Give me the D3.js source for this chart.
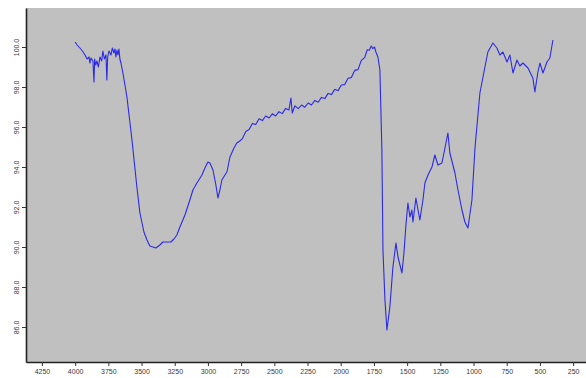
<!DOCTYPE html>
<html>
<head>
<meta charset="utf-8">
<script src="https://cdn.jsdelivr.net/npm/d3@7"></script>
<style>
  html, body { margin: 0; padding: 0; background: #ffffff; }
  svg { display: block; }
  .tick text { font-family: "Liberation Sans", Arial, sans-serif; font-size: 7px; fill: #3a3a3a; }
</style>
</head>
<body>
<svg id="chart" width="586" height="378"></svg>
<script>
// Wavenumber (cm-1) values of the spectrum trace
const wavenumbers = [
  4000, 3985, 3964, 3945, 3926, 3910, 3895, 3889, 3880, 3866, 3858, 3853, 3845, 3836, 3825, 3813, 3800, 3791,
  3780, 3768, 3761, 3755, 3745, 3730, 3720, 3708, 3700, 3693, 3685, 3678, 3670, 3663, 3655,
  3640, 3610, 3572, 3535, 3512, 3482, 3459, 3437, 3414, 3392, 3362, 3339, 3309, 3279, 3256, 3234, 3211, 3173,
  3136, 3113, 3083, 3045, 3023, 3000, 2985, 2962, 2940, 2925, 2910, 2895, 2872, 2857, 2834, 2804, 2782,
  2760, 2740, 2715, 2690, 2665, 2640, 2615, 2590, 2565, 2540, 2515, 2490, 2465, 2440, 2415, 2390, 2375, 2365,
  2345, 2320, 2295, 2270, 2245, 2220, 2195, 2170, 2145, 2120, 2095, 2070, 2045, 2020, 1995, 1970, 1945, 1920,
  1895, 1870, 1845, 1820, 1800, 1785, 1770, 1758, 1745, 1735, 1720, 1705, 1690, 1682, 1667, 1652, 1630, 1607,
  1584, 1569, 1539, 1524, 1509, 1494, 1479, 1464, 1456, 1434, 1404, 1381, 1366, 1343, 1313, 1291, 1268, 1238,
  1215, 1193, 1178, 1140, 1117, 1087, 1065, 1042, 1012, 989, 952, 914, 892, 854, 824, 801, 779, 748, 726, 703,
  673, 651, 628, 590, 553, 538, 515, 500, 477, 447, 425, 402
];
// Transmittance (%) values
const transmittance = [
  100.25, 100.1, 99.95, 99.8, 99.6, 99.4, 99.5, 99.2, 99.45, 99.3, 98.25, 99.4, 99.1, 99.3, 99.0, 99.5, 99.3, 99.8,
  99.4, 99.6, 98.35, 99.5, 99.8, 99.6, 99.95, 99.7, 99.9, 99.5, 99.85, 99.6, 99.9, 99.4, 99.2,
  98.7, 97.5, 95.35, 93.0, 91.7, 90.75, 90.35, 90.05, 90.0, 89.95, 90.1, 90.25, 90.25, 90.25, 90.4, 90.6, 91.0, 91.6,
  92.35, 92.85, 93.2, 93.6, 93.95, 94.25, 94.2, 93.85, 93.1, 92.45, 92.85, 93.35, 93.6, 93.75, 94.5, 94.95, 95.2,
  95.3, 95.42, 95.78, 95.87, 96.18, 96.12, 96.41, 96.32, 96.55, 96.45, 96.66, 96.55, 96.77, 96.67, 96.93, 96.85, 97.45, 96.7,
  97.06, 96.92, 97.1, 96.99, 97.2, 97.1, 97.33, 97.24, 97.48, 97.42, 97.68, 97.62, 97.88, 97.82, 98.1, 98.12, 98.44, 98.47,
  98.83, 98.87, 99.33, 99.47, 99.86, 99.84, 100.05, 99.92, 100.0, 99.75, 99.5, 98.85, 94.85, 89.85, 87.35, 85.85, 87.0, 89.0,
  90.2, 89.5, 88.7, 89.7, 91.1, 92.2, 91.5, 91.85, 91.25, 92.45, 91.35, 92.35, 93.2, 93.6, 94.0, 94.6, 94.1, 94.2,
  94.95, 95.7, 94.7, 93.7, 92.85, 91.85, 91.25, 90.95, 92.35, 94.95, 97.7, 99.0, 99.75, 100.2, 99.95, 99.6, 99.75, 99.25, 99.6, 98.7,
  99.35, 99.05, 99.2, 98.95, 98.45, 97.75, 98.75, 99.2, 98.7, 99.25, 99.45, 100.35
];
const xTickValues = [4250, 4000, 3750, 3500, 3250, 3000, 2750, 2500, 2250, 2000, 1750, 1500, 1250, 1000, 750, 500, 250];
const yTickValues = [86, 88, 90, 92, 94, 96, 98, 100];

const svg = d3.select("#chart");
const plotLeft = 26, plotRight = 586, plotTop = 8, plotBottom = 362;

const x = d3.scaleLinear().domain([4370, 153]).range([plotLeft, plotRight]);
const y = d3.scaleLinear().domain([84.25, 101.95]).range([plotBottom, plotTop]);

// plot background
svg.append("rect")
  .attr("x", plotLeft).attr("y", plotTop)
  .attr("width", plotRight - plotLeft).attr("height", plotBottom - plotTop)
  .attr("fill", "#c0c0c0");

const data = wavenumbers.map((w, i) => ({ w: w, t: transmittance[i] }));

svg.append("path")
  .datum(data)
  .attr("fill", "none")
  .attr("stroke", "#2a2ae6")
  .attr("stroke-width", 1.1)
  .attr("stroke-linejoin", "round")
  .attr("d", d3.line().x(d => x(d.w)).y(d => y(d.t)));

// x axis
const xAxis = svg.append("g")
  .attr("transform", `translate(0,${plotBottom})`)
  .call(d3.axisBottom(x).tickValues(xTickValues).tickFormat(d3.format("d")).tickSize(4).tickSizeOuter(0).tickPadding(3));
xAxis.select(".domain").attr("stroke", "#222").attr("stroke-width", 1.6);
xAxis.selectAll(".tick line").attr("stroke", "#333");

// y axis
const yAxis = svg.append("g")
  .attr("transform", `translate(${plotLeft},0)`)
  .call(d3.axisLeft(y).tickValues(yTickValues).tickFormat(d3.format(".1f")).tickSize(4).tickSizeOuter(0));
yAxis.select(".domain").attr("stroke", "#222").attr("stroke-width", 1.6);
yAxis.selectAll(".tick line").attr("stroke", "#333");
yAxis.selectAll(".tick text")
  .attr("x", 0).attr("dy", 0)
  .attr("text-anchor", "middle")
  .attr("transform", "translate(-7,0) rotate(-90)");
</script>
</body>
</html>
